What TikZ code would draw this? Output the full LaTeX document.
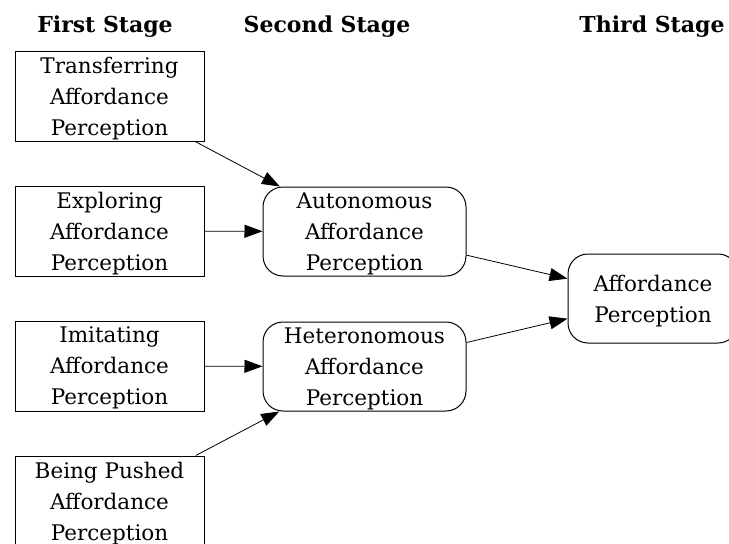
\documentclass[tikz,border=0pt]{standalone}
\usepackage{fontspec}
\setmainfont{DejaVu Serif}
\usetikzlibrary{arrows.meta}
\begin{document}
\begin{tikzpicture}[x=1pt,y=-1pt,
  lbl/.style={font=\fontsize{21.5}{31}\selectfont, align=center, inner sep=0pt, text depth=0pt},
  sqbox/.style={lbl, draw, line width=1pt, minimum width=189pt, minimum height=90pt},
  rbox/.style={lbl, draw, line width=1pt, rounded corners=20pt, minimum width=203pt, minimum height=89pt},
  hdr/.style={font=\bfseries\fontsize{22}{26}\selectfont, anchor=base},
  arr/.style={-{Triangle[length=18pt,width=13pt]}, line width=0.8pt}]
\useasboundingbox (0,0) rectangle (729,544);
\node[hdr] (h1) at (105,32) {First Stage};
\node[hdr] (h2) at (327,32) {Second Stage};
\node[hdr] (h3) at (652,32) {Third Stage};
\node[sqbox] (t) at (109.5,96) {Transferring\\Affordance\\Perception};
\node[sqbox] (e) at (109.5,231) {Exploring\\Affordance\\Perception};
\node[sqbox] (i) at (109.5,366) {Imitating\\Affordance\\Perception};
\node[sqbox] (b) at (109.5,501) {Being Pushed\\Affordance\\Perception};
\node[rbox] (a) at (364.5,231.5) {Autonomous\\Affordance\\Perception};
\node[rbox] (h) at (364.5,366.5) {Heteronomous\\Affordance\\Perception};
\node[rbox, minimum width=170pt] (f) at (653,298.5) {Affordance\\Perception};
\draw[arr] (t) -- (a);
\draw[arr] (e) -- (a);
\draw[arr] (i) -- (h);
\draw[arr] (b) -- (h);
\draw[arr] (a) -- (f);
\draw[arr] (h) -- (f);
\end{tikzpicture}
\end{document}
